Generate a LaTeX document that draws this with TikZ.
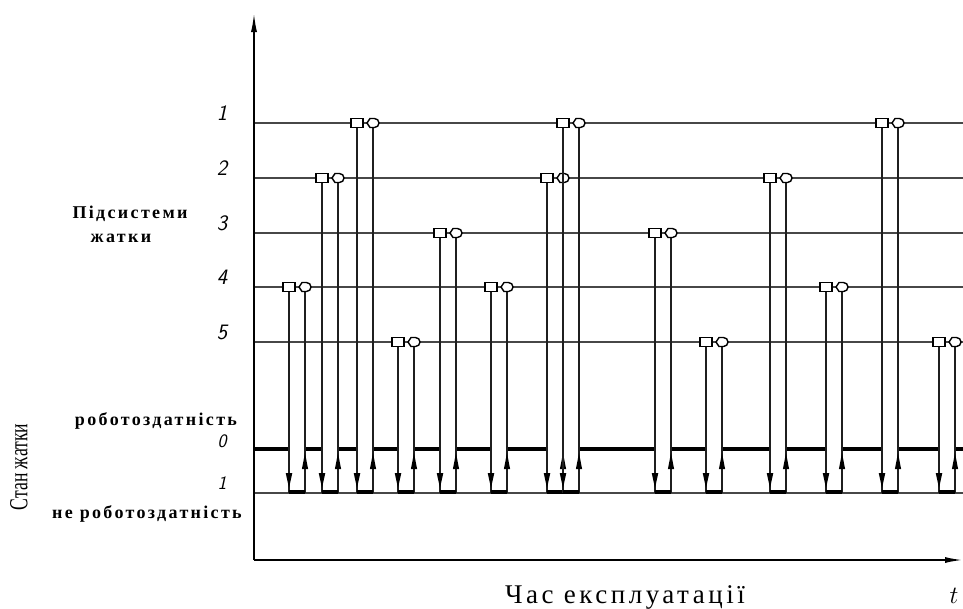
\documentclass[tikz,border=0pt]{standalone}
\usepackage{fontspec}
\setmainfont{Liberation Serif}
\newfontfamily\spbold[LetterSpace=13]{Liberation Serif Bold}
\newfontfamily\capfont[LetterSpace=13]{Liberation Serif}
\usetikzlibrary{arrows.meta}
\begin{document}
\begin{tikzpicture}[x=1pt,y=-1pt,
  lvl/.style={draw=black!72, line width=1.1pt},
  axisline/.style={draw=black, line width=2pt},
  evline/.style={draw=black!88, line width=1.3pt},
  workline/.style={draw=black, line width=3.8pt},
  failseg/.style={draw=black, line width=3.4pt},
  marker/.style={draw=black, fill=white, line width=1.4pt},
  headfill/.style={fill=black},
  digit/.style={font=\fontsize{22}{22}\selectfont\sffamily\slshape, anchor=base, inner sep=0pt},
  sdigit/.style={font=\fontsize{19}{19}\selectfont\sffamily\slshape, anchor=base, inner sep=0pt},
  boldlab/.style={font=\fontsize{18}{20}\selectfont\spbold, anchor=base, inner sep=0pt}
]
\useasboundingbox (0,0) rectangle (963,608);

% level lines
\foreach \yy in {123,178,233,287,342,493}
  \draw[lvl] (254,\yy) -- (963,\yy);

% level labels
\node[digit] (d1) at (222,120) {1};
\node[digit] (d2) at (222,175) {2};
\node[digit] (d3) at (222,230) {3};
\node[digit] (d4) at (222,284) {4};
\node[digit] (d5) at (222,339) {5};
\node[sdigit] (s0) at (222,447) {0};
\node[sdigit] (s1) at (222,489) {1};

% working state thick line (level 0)
\foreach \a/\b in {254/289,305/322,338/357,373/398,414/440,456/491,507/547,579/655,671/706,722/770,786/826,842/882,898/939,955/963}
  \draw[workline] (\a,449) -- (\b,449);

% events: square x / circle x / level y
\foreach \s/\c/\yy in {289/305/287, 322/338/178, 357/373/123, 398/414/342, 440/456/233, 491/507/287, 547/563/178, 563/579/123, 655/671/233, 706/722/342, 770/786/178, 826/842/287, 882/898/123, 939/955/342}{
  \draw[evline] (\s,\yy) -- (\s,493);
  \draw[evline] (\c,\yy) -- (\c,493);
  \fill[headfill] (\s-3.3,473) -- (\s+3.3,473) -- (\s,488) -- cycle;
  \fill[headfill] (\c-3.1,469) -- (\c+3.1,469) -- (\c,453) -- cycle;
  \draw[failseg] (\s,492) -- (\c,492);
  \draw[marker] (\s-6,\yy-4.5) rectangle (\s+6,\yy+4.5);
  \draw[marker] (\c-6,\yy) -- (\c-3,\yy-4.5) -- (\c+1.5,\yy-4.5)
     arc[start angle=-90, end angle=90, radius=4.5] -- (\c-3,\yy+4.5) -- cycle;
}

% axes
\coordinate (o) at (254,560);
\coordinate (ytop) at (254,12);
\coordinate (xend) at (963,560);
\draw[axisline, -{Latex[length=20pt,width=6pt]}] (o) -- (ytop);
\draw[axisline, line width=1.8pt, -{Latex[length=18pt,width=6pt]}] (o) -- (xend);

% texts
\node[boldlab] (sub1) at (130,218) {Підсистеми};
\node[boldlab] (sub2) at (121,242) {жатки};
\node[boldlab] (work) at (156,425) {роботоздатність};
\node[boldlab] (nwork) at (147,518) {не роботоздатність};
\node[rotate=90, inner sep=0pt] (state) at (19,467)
  {\scalebox{0.68}[1]{\fontsize{26}{26}\selectfont Стан жатки}};
\node[anchor=base east, inner sep=0pt, font=\fontsize{27}{27}\selectfont\capfont] (time) at (745,603) {Час експлуатації};
\node[anchor=base, inner sep=0pt, font=\fontsize{26}{26}\selectfont] (tt) at (954,603) {$t$};
\end{tikzpicture}
\end{document}
